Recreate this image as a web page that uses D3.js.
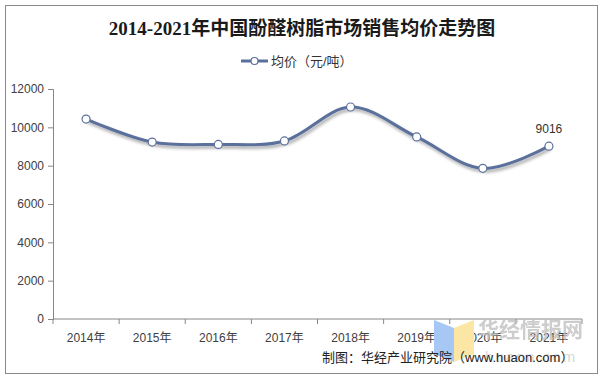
<!DOCTYPE html>
<html>
<head>
<meta charset="utf-8">
<script src="https://cdn.jsdelivr.net/npm/d3@7"></script>
<style>
	body { margin: 0; background: #fff; }
	text { font-family: Arial, "Liberation Sans", "Noto Sans CJK SC", sans-serif; }
</style>
</head>
<body>
<div id="chart"></div>
<script>
// chart data
var years = ["2014年", "2015年", "2016年", "2017年", "2018年", "2019年", "2020年", "2021年"];
var prices = [10430, 9230, 9110, 9290, 11060, 9500, 7860, 9016];
var yTicks = [0, 2000, 4000, 6000, 8000, 10000, 12000];

var W = 605, H = 379;
var margin = {top: 89, right: 23, bottom: 60, left: 53},
	width = W - margin.left - margin.right,
	height = H - margin.top - margin.bottom;

var svg = d3.select("#chart").append("svg")
	.attr("width", W)
	.attr("height", H);

// shadow under the line
var defs = svg.append("defs");
var f = defs.append("filter").attr("id", "shadow")
	.attr("x", "-5%").attr("y", "-20%").attr("width", "110%").attr("height", "150%");
f.append("feDropShadow").attr("dx", 1.5).attr("dy", 2.5).attr("stdDeviation", 1.6)
	.attr("flood-color", "#000").attr("flood-opacity", 0.35);

//outer frame
svg.append("rect")
	.attr("x", 5.5).attr("y", 5.5)
	.attr("width", 592).attr("height", 368)
	.attr("fill", "#fff").attr("stroke", "#898989").attr("stroke-width", 1);

//title
svg.append("text")
	.attr("x", 302).attr("y", 35)
	.attr("text-anchor", "middle")
	.style("font-family", "'Liberation Serif', 'Noto Sans CJK SC', serif")
	.style("font-size", "19px")
	.style("font-weight", "bold")
	.attr("fill", "#1a1a1a")
	.text("2014-2021年中国酚醛树脂市场销售均价走势图");

//legend
var leg = svg.append("g").attr("transform", "translate(241,61)");
leg.append("line").attr("x1", 0).attr("x2", 27).attr("y1", 0).attr("y2", 0)
	.attr("stroke", "#5b6f9c").attr("stroke-width", 3);
leg.append("circle").attr("cx", 13.5).attr("cy", 0).attr("r", 3.5)
	.attr("fill", "#fff").attr("stroke", "#5b6f9c").attr("stroke-width", 1.2);
leg.append("text").attr("x", 30).attr("y", 5)
	.style("font-size", "13px").attr("fill", "#333")
	.text("均价（元/吨）");

var g = svg.append("g")
	.attr("transform", "translate(" + margin.left + "," + margin.top + ")");

var x = d3.scaleBand().domain(years).range([0, width]);
var y = d3.scaleLinear().domain([0, 12000]).range([height, 0]);

//y axis
var yAxis = g.append("g")
	.call(d3.axisLeft(y).tickValues(yTicks).tickFormat(d3.format("d")).tickSize(5).tickPadding(4));
yAxis.select(".domain").attr("stroke", "#868686");
yAxis.selectAll(".tick line").attr("stroke", "#868686");
yAxis.selectAll("text").style("font-size", "12px").attr("fill", "#404040");

//x axis, ticks on category borders
var xAxis = g.append("g").attr("transform", "translate(0," + height + ")");
xAxis.append("line").attr("x1", 0).attr("x2", width).attr("stroke", "#868686");
var bounds = years.map(function(d){ return x(d); }).concat([width]);
xAxis.selectAll("line.tk").data(bounds).enter().append("line")
	.attr("class", "tk")
	.attr("x1", function(d){ return d; }).attr("x2", function(d){ return d; })
	.attr("y1", 0).attr("y2", 5).attr("stroke", "#868686");
xAxis.selectAll("text").data(years).enter().append("text")
	.attr("x", function(d){ return x(d) + x.bandwidth() / 2; })
	.attr("y", 23)
	.attr("text-anchor", "middle")
	.style("font-size", "12px").attr("fill", "#404040")
	.text(function(d){ return d; });

//watermark
var wm = svg.append("g");
wm.append("path").attr("d", "M434,320 L454,328 L454,362 L434,354 Z").attr("fill", "#a7c8f5");
wm.append("path").attr("d", "M454,328 L474,320 L474,354 L454,362 Z").attr("fill", "#fbe6a6");
wm.append("text").attr("x", 478).attr("y", 337)
	.style("font-size", "21px").style("font-weight", "bold")
	.attr("fill", "#bdbdbd").attr("opacity", 0.75)
	.text("华经情报网");
wm.append("text").attr("x", 485).attr("y", 362)
	.style("font-size", "15px").style("letter-spacing", "2px")
	.attr("fill", "#d8d8d8")
	.text("huaon.com");

//line
var pts = years.map(function(d, i){ return {yr: d, v: prices[i]}; });
var line = d3.line()
	.x(function(d){ return x(d.yr) + x.bandwidth() / 2; })
	.y(function(d){ return y(d.v); })
	.curve(d3.curveCatmullRom.alpha(0.5));

g.append("path").datum(pts)
	.attr("d", line)
	.attr("fill", "none")
	.attr("stroke", "#5b6f9c")
	.attr("stroke-width", 3)
	.attr("filter", "url(#shadow)");

g.selectAll("circle.pt").data(pts).enter().append("circle")
	.attr("class", "pt")
	.attr("cx", function(d){ return x(d.yr) + x.bandwidth() / 2; })
	.attr("cy", function(d){ return y(d.v); })
	.attr("r", 4)
	.attr("fill", "#fff")
	.attr("stroke", "#5b6f9c")
	.attr("stroke-width", 1.2);

//last value label
var last = pts[pts.length - 1];
g.append("text")
	.attr("x", x(last.yr) + x.bandwidth() / 2)
	.attr("y", y(last.v) - 13)
	.attr("text-anchor", "middle")
	.style("font-size", "12px").attr("fill", "#333")
	.text(last.v);

//credit
svg.append("text")
	.attr("x", 322).attr("y", 362)
	.style("font-size", "13px").attr("fill", "#222")
	.text("制图：华经产业研究院（www.huaon.com）");
</script>
</body>
</html>
